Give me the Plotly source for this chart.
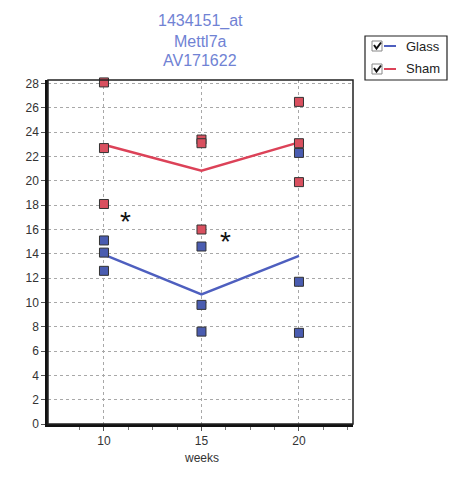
import plotly.graph_objects as go
import numpy as np

weeks = [10, 15, 20]
glass_10 = [15.1, 14.1, 12.6]
glass_15 = [14.6, 9.8, 7.6]
glass_20 = [22.3, 11.7, 7.5]
sham_10 = [28.1, 22.7, 18.1]
sham_15 = [23.4, 23.1, 16.0]
sham_20 = [26.5, 23.1, 19.9]
title_lines = ["1434151_at", "Mettl7a", "AV171622"]
y_ticks = list(range(0, 29, 2))
star_x = [11.1, 16.25]
star_y = [17.2, 15.6]

W, H = 457, 478
L, R, T, B = 48, 353, 80, 424
def px(x):
    return (x - L) / (R - L)
def py(y):
    return (B - y) / (B - T)

RED = "#dc4258"
BLUE = "#4e5fbf"
RED_F = "#d9505f"
BLUE_F = "#4a5cb0"
GRID = "#a8a8a8"

fig = go.Figure()

glass = [glass_10, glass_15, glass_20]
sham = [sham_10, sham_15, sham_20]

for grp, lc, fc in [(glass, BLUE, BLUE_F), (sham, RED, RED_F)]:
    means = [float(np.mean(v)) for v in grp]
    fig.add_trace(go.Scatter(x=weeks, y=means, mode="lines",
                             line=dict(color=lc, width=2.5), showlegend=False,
                             hoverinfo="skip"))
    xs, ys = [], []
    for w, vals in zip(weeks, grp):
        xs += [w] * len(vals)
        ys += vals
    fig.add_trace(go.Scatter(x=xs, y=ys, mode="markers", cliponaxis=False,
                             marker=dict(symbol="square", size=9, color=fc,
                                         line=dict(color="#333333", width=1)),
                             showlegend=False))

for x, y in zip(star_x, star_y):
    fig.add_annotation(x=x, y=y, text="*", showarrow=False,
                       font=dict(size=28, color="#111111", family="Liberation Sans"),
                       yshift=-7)

for i, t in enumerate(title_lines):
    fig.add_annotation(x=px(200), y=py(21 + 20 * i), xref="paper", yref="paper",
                       text=t, showarrow=False, xanchor="center", yanchor="middle",
                       font=dict(size=16, color="#7082d4", family="Liberation Sans"))

fig.add_annotation(x=15, y=py(458), yref="paper", text="weeks", showarrow=False,
                   yanchor="middle", font=dict(size=12, color="#333333", family="Liberation Sans"))

shapes = []
# plot border
shapes.append(dict(type="rect", xref="paper", yref="paper", x0=0, x1=1, y0=0, y1=1,
                   line=dict(color="#222222", width=1.5), layer="above"))
# legend box
shapes.append(dict(type="rect", xref="paper", yref="paper", x0=px(365), x1=px(447),
                   y0=py(80), y1=py(36), line=dict(color="#222222", width=1.2),
                   fillcolor="white"))
for yc, col, name in [(46, BLUE, "Glass"), (69, RED, "Sham")]:
    shapes.append(dict(type="rect", xref="paper", yref="paper", x0=px(372), x1=px(382),
                       y0=py(yc + 5), y1=py(yc - 5), line=dict(color="#888888", width=1)))
    path = "M {} {} L {} {} L {} {}".format(px(374), py(yc - 1), px(376.5), py(yc + 2.5),
                                           px(381), py(yc - 3.5))
    shapes.append(dict(type="path", xref="paper", yref="paper", path=path,
                       line=dict(color="#111111", width=2)))
    shapes.append(dict(type="line", xref="paper", yref="paper", x0=px(384), x1=px(396),
                       y0=py(yc), y1=py(yc), line=dict(color=col, width=2)))
    fig.add_annotation(x=px(404), y=py(yc), xref="paper", yref="paper", text=name,
                       showarrow=False, xanchor="left", yanchor="middle",
                       font=dict(size=13, color="#222222", family="Liberation Sans"))

fig.update_layout(
    width=W, height=H,
    margin=dict(l=L, r=W - R, t=T, b=H - B, pad=0),
    paper_bgcolor="white", plot_bgcolor="white",
    shapes=shapes,
    font=dict(family="Liberation Sans", size=12, color="#333333"),
)
fig.update_xaxes(range=[7.13, 22.77], tickvals=weeks, ticktext=[str(w) for w in weeks],
                 showgrid=True, gridcolor=GRID, griddash="3px,3px", gridwidth=1,
                 showline=True, linecolor="#111111", linewidth=2.5,
                 ticks="outside", ticklen=4, tickcolor="#555555",
                 minor=dict(tickvals=[8.75, 11.25, 12.5, 13.75, 16.25, 17.5, 18.75, 21.25, 22.5],
                            ticks="outside", ticklen=3, tickcolor="#777777", showgrid=False),
                 zeroline=False, tickfont=dict(size=12, color="#333333"))
fig.update_yaxes(range=[0, 28.3], tickvals=y_ticks,
                 showgrid=True, gridcolor=GRID, griddash="3px,3px", gridwidth=1,
                 showline=True, linecolor="#111111", linewidth=2.5,
                 ticks="outside", ticklen=4, tickcolor="#555555",
                 zeroline=False, tickfont=dict(size=12, color="#333333"))

fig.write_html("out.html")
